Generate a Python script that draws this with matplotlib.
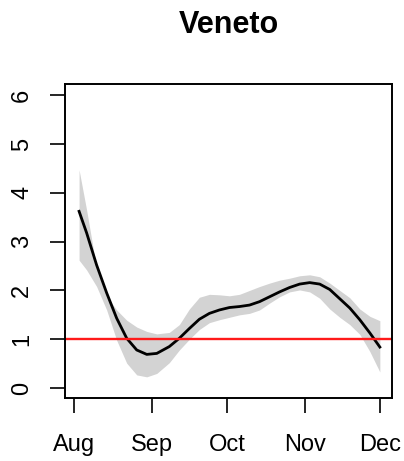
import numpy as np
import matplotlib.pyplot as plt

plt.rcParams['font.family'] = ['Liberation Sans', 'DejaVu Sans']

# days since 1 August
day = [2, 5, 9, 13, 17, 21, 25, 29, 33, 38, 42, 46, 50, 54, 58, 62,
       66, 70, 74, 78, 82, 86, 90, 94, 98, 102, 106, 110, 114, 118, 122]

# smoothed Rt estimate and its confidence band
rt = [3.62, 3.18, 2.52, 1.95, 1.43, 1.02, 0.78, 0.69, 0.71, 0.85, 1.02,
      1.22, 1.41, 1.53, 1.60, 1.65, 1.67, 1.70, 1.77, 1.87, 1.97, 2.06,
      2.13, 2.16, 2.13, 2.02, 1.83, 1.64, 1.40, 1.13, 0.84]
rt_upper = [4.47, 3.65, 2.45, 1.88, 1.60, 1.39, 1.25, 1.16, 1.11, 1.14, 1.30,
            1.62, 1.86, 1.92, 1.91, 1.89, 1.92, 2.00, 2.08, 2.15, 2.21, 2.25,
            2.30, 2.32, 2.28, 2.15, 2.00, 1.85, 1.62, 1.47, 1.38]
rt_lower = [2.62, 2.42, 2.08, 1.60, 0.98, 0.51, 0.27, 0.23, 0.30, 0.52, 0.78,
            1.00, 1.20, 1.34, 1.40, 1.45, 1.50, 1.53, 1.60, 1.74, 1.87, 1.97,
            2.01, 1.97, 1.84, 1.62, 1.45, 1.30, 1.10, 0.75, 0.33]

month_days = [0, 31, 61, 92, 122]
month_labels = ["Aug", "Sep", "Oct", "Nov", "Dec"]
y_ticks = [0, 1, 2, 3, 4, 5, 6]
threshold = 1

fig = plt.figure(figsize=(4.04, 4.61), dpi=100)
ax = fig.add_axes([0.161, 0.137, 0.809, 0.681])

ax.fill_between(day, rt_lower, rt_upper, color="#d3d3d3", lw=0)
ax.plot(day, rt, color="black", lw=2, solid_joinstyle="round")
ax.axhline(threshold, color="#ff1a1a", lw=1.7)

ax.set_xlim(-3.6, 126.8)
ax.set_ylim(-0.2, 6.23)
ax.set_xticks(month_days)
ax.set_xticklabels(month_labels)
ax.set_yticks(y_ticks)
ax.set_yticklabels([str(v) for v in y_ticks], rotation=90, va="center")

for s in ax.spines.values():
    s.set_linewidth(1.4)
ax.tick_params(length=11, width=1.2, labelsize=17)
ax.tick_params(axis="x", pad=15)
ax.tick_params(axis="y", pad=12)

ax.set_title("Veneto", fontsize=22, fontweight="bold", pad=37)

fig.savefig("out.png", dpi=100)
